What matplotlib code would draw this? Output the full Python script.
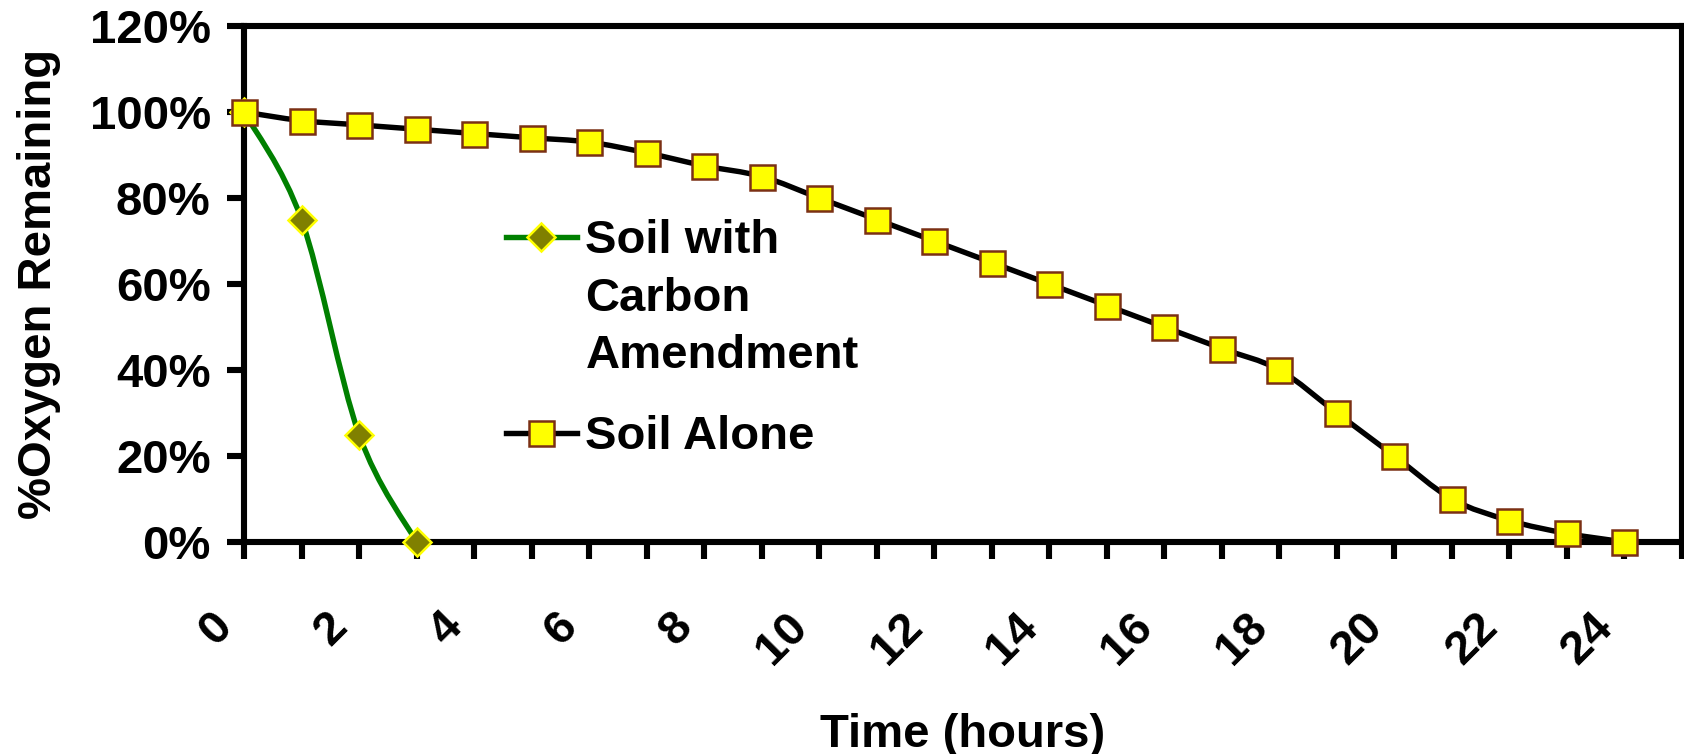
import matplotlib
matplotlib.use("Agg")
import matplotlib.pyplot as plt
import numpy as np
from matplotlib.path import Path
from matplotlib.patches import PathPatch
from matplotlib.lines import Line2D
from matplotlib.legend_handler import HandlerLine2D
from matplotlib.transforms import Affine2D, ScaledTranslation

# data
hours = list(range(25))
soil_alone = [100, 98, 97, 96, 95, 94, 93, 90.5, 87.5, 85, 80, 75, 70, 65,
              60, 55, 50, 45, 40, 30, 20, 10, 5, 2, 0]
carbon_hours = [0, 1, 2, 3]
soil_carbon = [100, 75, 25, 0]

x_ticks = list(range(26))
x_tick_labels = [str(h) if h % 2 == 0 and h <= 24 else "" for h in x_ticks]
y_ticks = [0, 20, 40, 60, 80, 100, 120]
y_tick_labels = [f"{v}%" for v in y_ticks]

series_names = ["Soil with\nCarbon\nAmendment", "Soil Alone"]

plt.rcParams['font.family'] = ['Liberation Sans', 'DejaVu Sans']
plt.rcParams['font.weight'] = 'bold'
FS = 34


def smooth_path(xs, ys):
    # excel style smoothed line: cubic bezier through the points
    pts = np.column_stack([xs, ys]).astype(float)
    n = len(pts)
    verts = [pts[0]]
    codes = [Path.MOVETO]
    for i in range(n - 1):
        p0 = pts[i - 1] if i > 0 else pts[i]
        p1 = pts[i]
        p2 = pts[i + 1]
        p3 = pts[i + 2] if i + 2 < n else pts[i + 1]
        verts += [p1 + (p2 - p0) / 6, p2 - (p3 - p1) / 6, p2]
        codes += [Path.CURVE4] * 3
    return Path(verts, codes)


class RaisedLineHandler(HandlerLine2D):
    # puts the key next to the first line of a multi-line label
    def __init__(self, raise_pt, **kw):
        super().__init__(**kw)
        self.raise_pt = raise_pt

    def create_artists(self, legend, orig_handle, xdescent, ydescent,
                       width, height, fontsize, trans):
        shifted = Affine2D().translate(0, self.raise_pt) + trans
        return super().create_artists(legend, orig_handle, xdescent, ydescent,
                                      width, height, fontsize, shifted)


fig = plt.figure(figsize=(16.84, 7.54), dpi=100)
ax = fig.add_axes([244 / 1684, 1 - 542 / 754, 1438 / 1684, 516 / 754])

green = '#008000'
brown = '#7B3014'
LW = 3.9

ax.add_patch(PathPatch(smooth_path(carbon_hours, soil_carbon), fill=False,
                       edgecolor=green, lw=LW, zorder=3, clip_on=False))
ax.plot(carbon_hours, soil_carbon, ls='none', marker='D', ms=14,
        mfc='#808000', mec='#FFFF00', mew=1.8, zorder=4, clip_on=False)

ax.add_patch(PathPatch(smooth_path(hours, soil_alone), fill=False,
                       edgecolor='black', lw=LW, zorder=5, clip_on=False))
ax.plot(hours, soil_alone, ls='none', marker='s', ms=18,
        mfc='#FFFF00', mec=brown, mew=1.8, zorder=6, clip_on=False)

ax.set_xlim(0, 25)
ax.set_ylim(0, 120)

for s in ax.spines.values():
    s.set_linewidth(4.4)

ax.set_xticks(x_ticks, x_tick_labels)
ax.set_yticks(y_ticks, y_tick_labels)
ax.tick_params(axis='both', direction='out', length=12, width=4.4,
               labelsize=FS)
ax.tick_params(axis='y', pad=12)
ax.tick_params(axis='x', pad=33)
for lab in ax.get_xticklabels():
    lab.set_rotation(45)
    lab.set_ha('right')
    lab.set_va('top')
    lab.set_transform(lab.get_transform() +
                      ScaledTranslation(-3 / 100, 0, fig.dpi_scale_trans))
for lab in ax.get_xticklabels() + ax.get_yticklabels():
    lab.set_fontweight('bold')

ax.set_xlabel("Time (hours)", fontsize=FS, fontweight='bold')
ax.set_ylabel("%Oxygen Remaining", fontsize=FS, fontweight='bold')
ax.xaxis.set_label_coords(0.5, -0.331)
ax.yaxis.set_label_coords(-0.127, 0.5)

h_carbon = Line2D([], [], color=green, lw=LW, marker='D', ms=14,
                  mfc='#808000', mec='#FFFF00', mew=1.8)
h_alone = Line2D([], [], color='black', lw=LW, marker='s', ms=18,
                 mfc='#FFFF00', mec=brown, mew=1.8)
leg = ax.legend([h_carbon, h_alone], series_names, loc='upper left',
                bbox_to_anchor=(0.1822, 0.626), frameon=False, borderpad=0,
                borderaxespad=0, handlelength=1.5, handletextpad=0.18,
                labelspacing=0.79, prop={'size': FS, 'weight': 'bold'},
                handler_map={h_carbon: RaisedLineHandler(44.9)})
for t in leg.get_texts():
    t.set_linespacing(1.4)

fig.savefig("out.png", dpi=100)
